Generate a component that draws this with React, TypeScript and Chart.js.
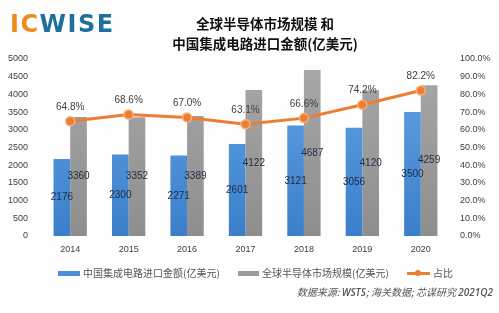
import React, { useEffect, useRef } from "react";
import { Chart, registerables } from "chart.js";

Chart.register(...registerables);

const categories = ["2014", "2015", "2016", "2017", "2018", "2019", "2020"];
const chinaImport = [2176, 2300, 2271, 2601, 3121, 3056, 3500];
const globalMarket = [3360, 3352, 3389, 4122, 4687, 4120, 4259];
const ratio = [64.8, 68.6, 67.0, 63.1, 66.6, 74.2, 82.2];
const leftTicks = [0, 500, 1000, 1500, 2000, 2500, 3000, 3500, 4000, 4500, 5000];
const rightTicks = [0, 10, 20, 30, 40, 50, 60, 70, 80, 90, 100];

const seriesNames = ["中国集成电路进口金额(亿美元)", "全球半导体市场规模(亿美元)", "占比"];

const labelPlugin = {
  id: "valueLabels",
  afterDatasetsDraw(chart: any) {
    const ctx = chart.ctx;
    ctx.save();
    ctx.textAlign = "center";
    ctx.textBaseline = "middle";
    [0, 1].forEach((di) => {
      const meta = chart.getDatasetMeta(di);
      meta.data.forEach((el: any, i: number) => {
        const v = chart.data.datasets[di].data[i];
        ctx.font = "10px 'Liberation Sans', Arial, sans-serif";
        ctx.fillStyle = "#1e2a40";
        ctx.fillText(String(v), el.x, (el.y + el.base) / 2);
      });
    });
    const lm = chart.getDatasetMeta(2);
    lm.data.forEach((el: any, i: number) => {
      const v = chart.data.datasets[2].data[i];
      ctx.font = "10px 'Liberation Sans', Arial, sans-serif";
      ctx.fillStyle = "#404040";
      ctx.fillText(v.toFixed(1) + "%", el.x, el.y - 14);
    });
    ctx.restore();
  },
};

function grad(ctx: any, chart: any, top: string, bottom: string) {
  const area = chart.chartArea;
  if (!area) return top;
  const g = ctx.createLinearGradient(0, area.top, 0, area.bottom);
  g.addColorStop(0, top);
  g.addColorStop(1, bottom);
  return g;
}

export default function App() {
  const ref = useRef<HTMLCanvasElement>(null);
  useEffect(() => {
    document.body.style.margin = "0";
    const tickFont = { family: "'Liberation Sans', Arial, sans-serif", size: 9 };
    const chart = new Chart(ref.current as HTMLCanvasElement, {
      type: "bar",
      data: {
        labels: categories,
        datasets: [
          {
            type: "bar",
            label: seriesNames[0],
            data: chinaImport,
            backgroundColor: (c: any) => grad(c.chart.ctx, c.chart, "#64a5e6", "#3b7fcb"),
            yAxisID: "y",
            order: 2,
            categoryPercentage: 0.57,
            barPercentage: 1,
          },
          {
            type: "bar",
            label: seriesNames[1],
            data: globalMarket,
            backgroundColor: (c: any) => grad(c.chart.ctx, c.chart, "#a8a8a8", "#8e8e8e"),
            yAxisID: "y",
            order: 2,
            categoryPercentage: 0.57,
            barPercentage: 1,
          },
          {
            type: "line",
            label: seriesNames[2],
            data: ratio,
            borderColor: "#ed7d31",
            backgroundColor: "#ed7d31",
            borderWidth: 3,
            pointRadius: 4.5,
            pointBorderColor: "#f6b07f",
            pointBorderWidth: 1.5,
            yAxisID: "y1",
            order: 1,
          } as any,
        ],
      },
      options: {
        animation: false,
        responsive: false,
        maintainAspectRatio: false,
        layout: { padding: { left: 0, right: 0, top: 59, bottom: 57 } },
        plugins: { legend: { display: false }, tooltip: { enabled: false }, title: { display: false } },
        scales: {
          x: {
            grid: { display: false, drawTicks: false },
            border: { display: false },
            ticks: { font: tickFont, color: "#404040", padding: 8 },
            afterFit: (s: any) => { s.height = 20; },
          },
          y: {
            position: "left",
            min: 0,
            max: 5000,
            grid: { display: false, drawTicks: false },
            border: { display: false },
            afterBuildTicks: (s: any) => { s.ticks = leftTicks.map((v) => ({ value: v })); },
            ticks: { font: tickFont, color: "#404040", padding: 13, callback: (v: any) => String(v) },
            afterFit: (s: any) => { s.width = 41; },
          },
          y1: {
            position: "right",
            min: 0,
            max: 100,
            grid: { display: false, drawTicks: false },
            border: { display: false },
            afterBuildTicks: (s: any) => { s.ticks = rightTicks.map((v) => ({ value: v })); },
            ticks: {
              font: tickFont,
              color: "#404040",
              padding: 10,
              callback: (v: any) => Number(v).toFixed(1) + "%",
            },
            afterFit: (s: any) => { s.width = 49; },
          },
        },
      } as any,
      plugins: [labelPlugin],
    });
    return () => chart.destroy();
  }, []);

  const cjk = "'Noto Sans CJK SC', sans-serif";
  return (
    <div style={{ position: "absolute", left: 0, top: 0, width: 499, height: 313, background: "#fefefe", overflow: "hidden" }}>
      <canvas ref={ref} width={499} height={313} style={{ position: "absolute", left: 0, top: 0 }} />
      <div style={{ position: "absolute", left: 10, top: 9, fontFamily: "'DejaVu Sans', sans-serif", fontWeight: 700, fontSize: 24, letterSpacing: 1.5, lineHeight: "30px" }}>
        <span style={{ color: "#ef8a1c" }}>IC</span>
        <span style={{ color: "#1f6f9f" }}>WISE</span>
      </div>
      <div style={{ position: "absolute", left: 140, width: 250, top: 13, textAlign: "center", fontFamily: cjk, fontWeight: 700, fontSize: 13.5, lineHeight: "20px", color: "#111" }}>
        <div>全球半导体市场规模 和</div>
        <div>中国集成电路进口金额(亿美元)</div>
      </div>
      <div style={{ position: "absolute", top: 265, left: 0, width: 499, height: 16, fontFamily: cjk, fontSize: 10, color: "#555", lineHeight: "16px" }}>
        <div style={{ position: "absolute", left: 58, top: 6, width: 22, height: 5, background: "#4a8fd8" }} />
        <div style={{ position: "absolute", left: 83, top: 0, whiteSpace: "nowrap" }}>{seriesNames[0]}</div>
        <div style={{ position: "absolute", left: 238, top: 6, width: 21, height: 5, background: "#9a9a9a" }} />
        <div style={{ position: "absolute", left: 262, top: 0, whiteSpace: "nowrap" }}>{seriesNames[1]}</div>
        <div style={{ position: "absolute", left: 407, top: 7, width: 23, height: 2.5, background: "#ed7d31" }} />
        <div style={{ position: "absolute", left: 415, top: 5, width: 6, height: 6, borderRadius: 3, background: "#ed7d31" }} />
        <div style={{ position: "absolute", left: 433, top: 0, whiteSpace: "nowrap" }}>{seriesNames[2]}</div>
      </div>
      <div style={{ position: "absolute", top: 284, right: 6, fontFamily: cjk, fontStyle: "italic", fontSize: 10, color: "#555", whiteSpace: "nowrap", lineHeight: "16px" }}>
        数据来源: <span style={{ fontFamily: "'Open Sans', sans-serif", fontWeight: 600 }}>WSTS</span>; 海关数据; 芯谋研究 <span style={{ fontFamily: "'Open Sans', sans-serif", fontWeight: 600 }}>2021Q2</span>
      </div>
    </div>
  );
}
